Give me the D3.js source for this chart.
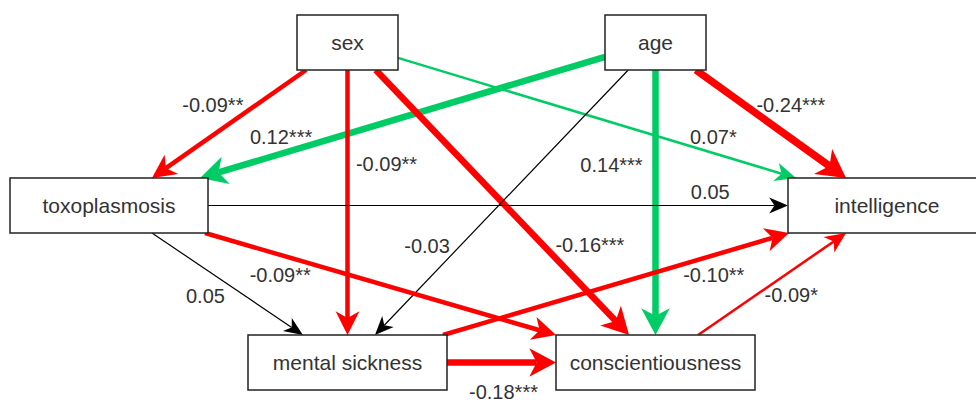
<!DOCTYPE html>
<html>
<head>
<meta charset="utf-8">
<script src="https://cdn.jsdelivr.net/npm/d3@7"></script>
<style>
  body { margin: 0; background: #fff; }
  svg { display: block; }
</style>
</head>
<body>
<div class="chart"></div>
<script>
var w = 976;
var h = 402;

// model variables
var nodeNames = ["sex", "age", "toxoplasmosis", "intelligence", "mental sickness", "conscientiousness"];

// paths: from, to, standardized coefficient, significance
var edgeFrom  = ["sex", "age", "sex", "sex", "sex", "age", "age", "age", "toxoplasmosis", "toxoplasmosis", "toxoplasmosis", "mental sickness", "conscientiousness", "mental sickness"];
var edgeTo    = ["toxoplasmosis", "toxoplasmosis", "intelligence", "mental sickness", "conscientiousness", "mental sickness", "conscientiousness", "intelligence", "intelligence", "mental sickness", "conscientiousness", "intelligence", "intelligence", "conscientiousness"];
var edgeCoef  = [-0.09, 0.12, 0.07, -0.09, -0.16, -0.03, 0.14, -0.24, 0.05, 0.05, -0.09, -0.10, -0.09, -0.18];
var edgeStars = ["**", "***", "*", "**", "***", "", "***", "***", "", "", "**", "**", "*", "***"];

// layout (box centres, sizes, ports, label placement)
var nodeCx  = [347.5, 655.5, 109, 887, 347.5, 655.5];
var nodeRow = ["top", "top", "middle", "middle", "bottom", "bottom"];
var nodeW   = [101, 101, 198, 198, 199, 199];
var nodeH   = 55;

var srcPort = [[-0.41, 0.5], [-0.5, 0.26], [0.5, 0.28], [0, 0.5], [0.28, 0.5], [-0.27, 0.5], [0, 0.5],
               [0.4, 0.5], [0.5, 0], [0.217, 0.5], [0.485, 0.5], [0.48, -0.5], [0.214, -0.5], [0.5, 0]];
var tgtPort = [[0.217, -0.5], [0.46, -0.5], [-0.46, -0.5], [0, -0.5], [-0.133, -0.5], [0.138, -0.5], [0, -0.5],
               [-0.207, -0.5], [-0.5, 0], [-0.224, -0.5], [-0.5, -0.5], [-0.495, 0.5], [-0.207, 0.5], [-0.5, 0]];
var labelT  = [0.3, 0.8, 0.8, 0.355, 0.66, 0.66, 0.36, 0.32, 0.866, 0.5, 0.2, 0.8, 0.4, 0.5];
var labelDx = [-47, 0, -3, 39, 47, -34, -44, 47, 0, -22, 5, -6, 34, 2];
var labelDy = [3, -17, -17, 0, 0, 1, 0, 0, -14, 12, 22, 22, 1, 29];

var yScale = d3.scaleOrdinal()
                .domain(["top", "middle", "bottom"])
                .range([42.5, 205.5, 362.5]);

var widthScale = d3.scaleOrdinal()
                .domain(["", "*", "**", "***"])
                .range([1.2, 2.5, 4.5, 6.5]);

function edgeColor(i) {
    if (edgeStars[i] === "") return "#000";
    return edgeCoef[i] < 0 ? "#ff0000" : "#00cc66";
}

var nodes = nodeNames.map(function (d, i) {
    return { name: d, cx: nodeCx[i], cy: yScale(nodeRow[i]), w: nodeW[i], h: nodeH };
});
var byName = {};
nodes.forEach(function (n) { byName[n.name] = n; });

var edges = edgeFrom.map(function (d, i) {
    var s = byName[d], t = byName[edgeTo[i]];
    var x1 = s.cx + srcPort[i][0] * s.w, y1 = s.cy + srcPort[i][1] * s.h;
    var x2 = t.cx + tgtPort[i][0] * t.w, y2 = t.cy + tgtPort[i][1] * t.h;
    var sw = widthScale(edgeStars[i]);
    if (Math.abs(edgeCoef[i]) > 0.2) sw += 1;
    var ang = Math.atan2(y2 - y1, x2 - x1);
    var len = 17 + 1.5 * sw;
    var half = 6.5 + 1.2 * sw;
    var notch = len * 0.72;
    var lx = x1 + (x2 - x1) * labelT[i] + labelDx[i];
    var ly = y1 + (y2 - y1) * labelT[i] + labelDy[i];
    return {
        x1: x1, y1: y1, x2: x2, y2: y2,
        xe: x2 - Math.cos(ang) * notch, ye: y2 - Math.sin(ang) * notch,
        ang: ang * 180 / Math.PI, len: len, half: half, notch: notch,
        sw: sw, color: edgeColor(i),
        label: edgeCoef[i].toFixed(2) + edgeStars[i],
        lx: lx, ly: ly
    };
});

var svg = d3.select(".chart")
            .append("svg")
            .attr("width", w)
            .attr("height", h);

// labels (drawn first, lines pass over them)
svg.selectAll("text.lbl")
    .data(edges)
    .enter()
    .append("text")
    .attr("class", "lbl")
    .text(function (d) { return d.label; })
    .attr("x", function (d) { return d.lx; })
    .attr("y", function (d) { return d.ly; })
    .attr("text-anchor", "middle")
    .attr("dominant-baseline", "central")
    .attr("font-family", "Liberation Sans, Arial, sans-serif")
    .attr("font-size", "20px")
    .attr("fill", "#333");

svg.selectAll("line.edge")
    .data(edges)
    .enter()
    .append("line")
    .attr("class", "edge")
    .attr("x1", function (d) { return d.x1; })
    .attr("y1", function (d) { return d.y1; })
    .attr("x2", function (d) { return d.xe; })
    .attr("y2", function (d) { return d.ye; })
    .attr("stroke", function (d) { return d.color; })
    .attr("stroke-width", function (d) { return d.sw; });

svg.selectAll("path.head")
    .data(edges)
    .enter()
    .append("path")
    .attr("class", "head")
    .attr("d", function (d) {
        return "M0,0L" + (-d.len) + "," + (-d.half) + "L" + (-d.notch) + ",0L" + (-d.len) + "," + d.half + "Z";
    })
    .attr("transform", function (d) {
        return "translate(" + d.x2 + "," + d.y2 + ")rotate(" + d.ang + ")";
    })
    .attr("fill", function (d) { return d.color; });

var box = svg.selectAll("g.node")
    .data(nodes)
    .enter()
    .append("g")
    .attr("class", "node");

box.append("rect")
    .attr("x", function (d) { return d.cx - d.w / 2; })
    .attr("y", function (d) { return d.cy - d.h / 2; })
    .attr("width", function (d) { return d.w; })
    .attr("height", function (d) { return d.h; })
    .attr("fill", "#fff")
    .attr("stroke", "#222")
    .attr("stroke-width", 1.5);

box.append("text")
    .text(function (d) { return d.name; })
    .attr("x", function (d) { return d.cx; })
    .attr("y", function (d) { return d.cy; })
    .attr("text-anchor", "middle")
    .attr("dominant-baseline", "central")
    .attr("font-family", "Liberation Sans, Arial, sans-serif")
    .attr("font-size", "21px")
    .attr("fill", "#333");
</script>
</body>
</html>
